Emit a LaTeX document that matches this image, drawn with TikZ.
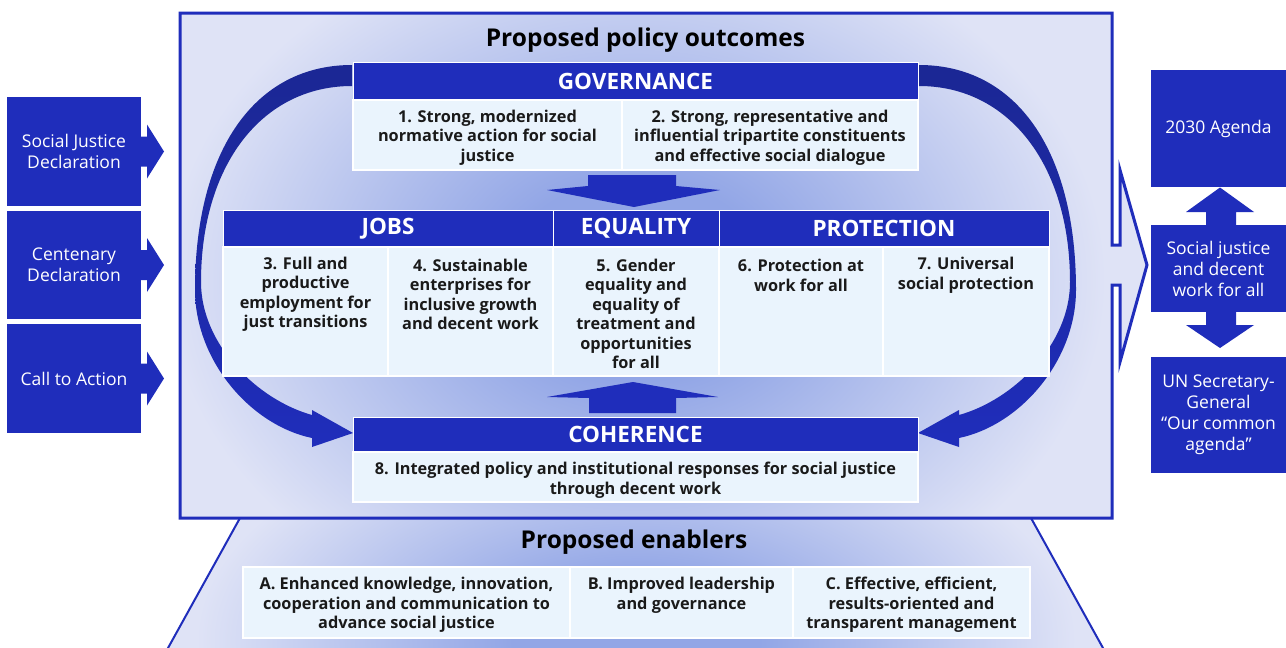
\documentclass[tikz,border=0pt]{standalone}
\usepackage{fontspec}
\setmainfont{Open Sans}
\usetikzlibrary{calc}
\definecolor{hdrblue}{HTML}{1F2DBB}
\definecolor{arctop}{HTML}{1B2794}
\definecolor{cellbg}{HTML}{EAF4FD}
\definecolor{bgl}{HTML}{DFE3F6}
\definecolor{glowc}{HTML}{92A6E6}
\definecolor{txt}{HTML}{1A1A1A}
\pgfdeclareradialshading{glow}{\pgfpoint{0bp}{0bp}}{color(0bp)=(glowc); color(7bp)=(glowc); color(25bp)=(bgl); color(50bp)=(bgl)}
\begin{document}
\begin{tikzpicture}[x=1pt,y=-1pt,
  hdr/.style={fill=hdrblue, draw=white, line width=1pt, text=white, font=\bfseries\fontsize{22.5}{26}\selectfont, inner sep=0pt, outer sep=0pt},
  cellbox/.style={fill=cellbg, draw=white, line width=1.2pt, inner sep=0pt, outer sep=0pt},
  celltext/.style={text=txt, font=\bfseries\fontsize{16.3}{19.5}\selectfont, align=center, inner sep=0pt},
  sidebox/.style={fill=hdrblue, text=white, font=\fontsize{17.5}{21}\selectfont, align=center, inner sep=0pt, outer sep=0pt},
  blockarrow/.style={fill=hdrblue},
  titletext/.style={font=\bfseries\fontsize{24.5}{28}\selectfont, text=black, inner sep=0pt},
  crescent/.pic={
    \shade[top color=arctop, bottom color=hdrblue]
      (352,65) .. controls (255,65) and (195,150) .. (195,290)
      .. controls (195,360) and (250,425) .. (312,438)
      -- (312,447) -- (353,433) -- (312,410) -- (312,415)
      .. controls (258,400) and (201,345) .. (201,282)
      .. controls (201,165) and (262,86) .. (352,86) -- cycle;
  }
]
\useasboundingbox (0,0) rectangle (1286,648);
\fill[white] (0,0) rectangle (1286,648);

% ---- enablers trapezoid
\fill[bgl] (240,518) -- (158.6,665) -- (1112.4,665) -- (1031,518) -- cycle;
\begin{scope}
  \clip (240,518) -- (158.6,665) -- (1112.4,665) -- (1031,518) -- cycle;
  \shade[shading=glow] (636,640) ellipse [x radius=440, y radius=230];
\end{scope}
\draw[hdrblue, line width=2pt] (240,518) -- (158.6,665);
\draw[hdrblue, line width=2pt] (1031,518) -- (1112.4,665);

% ---- main box with outgoing arrow
\fill[bgl] (180,13) -- (1112,13) -- (1112,245) -- (1120,245) -- (1120,170) -- (1147,265)
  -- (1120,362) -- (1120,285) -- (1112,285) -- (1112,518) -- (180,518) -- cycle;
\begin{scope}
  \clip (180,13) rectangle (1112,518);
  \shade[shading=glow] (636,280) ellipse [x radius=470, y radius=360];
\end{scope}
\draw[hdrblue, line width=3pt] (180,13) -- (1112,13) -- (1112,245) -- (1120,245) -- (1120,170) -- (1147,265)
  -- (1120,362) -- (1120,285) -- (1112,285) -- (1112,518) -- (180,518) -- cycle;

% ---- curved arrows
\pic at (0,0) {crescent};
\pic[xscale=-1] at (1271,0) {crescent};

% ---- titles
\node[titletext] (t1) at (645.5,40) {Proposed policy outcomes};
\node[titletext] (t2) at (634,542) {Proposed enablers};

% ---- governance
\node[hdr, minimum width=565pt, minimum height=38pt] (gov) at (635.5,81) {GOVERNANCE};
\node[cellbox, minimum width=269pt, minimum height=70pt] (g1) at (487.5,135) {};
\node[cellbox, minimum width=296pt, minimum height=70pt] (g2) at (770,135) {};
\node[celltext] (g1t) at (487.5,137.5) {1. Strong, modernized\\normative action for social\\justice};
\node[celltext] (g2t) at (770,137.5) {2. Strong, representative and\\influential tripartite constituents\\and effective social dialogue};

% ---- down arrow
\fill[blockarrow] (588,175) -- (676,175) -- (676,186) -- (720,190) -- (634,207) -- (547,190) -- (588,186) -- cycle;

% ---- middle row
\node[hdr, minimum width=330pt, minimum height=37pt] (jobs) at (388,228.5) {JOBS};
\node[hdr, minimum width=166pt, minimum height=37pt] (equ) at (636,228.5) {EQUALITY};
\node[hdr, minimum width=330pt, minimum height=37pt] (prot) at (884,228.5) {PROTECTION};
\node[cellbox, minimum width=165pt, minimum height=129pt] (c3) at (305.5,311.5) {};
\node[cellbox, minimum width=165pt, minimum height=129pt] (c4) at (470.5,311.5) {};
\node[cellbox, minimum width=166pt, minimum height=129pt] (c5) at (636,311.5) {};
\node[cellbox, minimum width=164pt, minimum height=129pt] (c6) at (801,311.5) {};
\node[cellbox, minimum width=166pt, minimum height=129pt] (c7) at (966,311.5) {};
\node[celltext] (c3t) at (305.5,294.5) {3. Full and\\productive\\employment for\\just transitions};
\node[celltext] (c4t) at (470.5,294.5) {4. Sustainable\\enterprises for\\inclusive growth\\and decent work};
\node[celltext] (c5t) at (636,314) {5. Gender\\equality and\\equality of\\treatment and\\opportunities\\for all};
\node[celltext] (c6t) at (801,275.5) {6. Protection at\\work for all};
\node[celltext] (c7t) at (966,275.5) {7. Universal\\social protection};

% ---- up arrow
\fill[blockarrow] (589,413) -- (676,413) -- (676,398) -- (718,397) -- (633,382) -- (547,397) -- (589,398) -- cycle;

% ---- coherence
\node[hdr, minimum width=565pt, minimum height=35pt] (coh) at (635.5,434.5) {COHERENCE};
\node[cellbox, minimum width=565pt, minimum height=50pt] (c8) at (635.5,477) {};
\node[celltext] (c8t) at (635.5,480) {8. Integrated policy and institutional responses for social justice\\through decent work};

% ---- enablers table
\node[cellbox, minimum width=327pt, minimum height=71pt] (ea) at (406.5,602.5) {};
\node[cellbox, minimum width=223pt, minimum height=71pt] (eb) at (681.5,602.5) {};
\node[cellbox, minimum width=237pt, minimum height=71pt] (ec) at (911.5,602.5) {};
\node[celltext] (eat) at (406.5,605) {A. Enhanced knowledge, innovation,\\cooperation and communication to\\advance social justice};
\node[celltext] (ebt) at (681.5,595.5) {B. Improved leadership\\and governance};
\node[celltext] (ect) at (911.5,605) {C. Effective, efficient,\\results-oriented and\\transparent management};

% ---- left inputs
\node[sidebox, minimum width=134pt, minimum height=109pt] (lb1) at (74,151.5) {Social Justice\\Declaration};
\node[sidebox, minimum width=134pt, minimum height=108pt] (lb2) at (74,265) {Centenary\\Declaration};
\node[sidebox, minimum width=134pt, minimum height=109pt] (lb3) at (74,378.5) {Call to Action};
\foreach \b in {lb1,lb2,lb3}{
  \fill[blockarrow] ($(\b.east)+(-0.5,-15)$) -- ($(\b.east)+(6,-15)$) -- ($(\b.east)+(6,-27)$)
    -- ($(\b.east)+(23,0)$) -- ($(\b.east)+(6,27)$) -- ($(\b.east)+(6,15)$) -- ($(\b.east)+(-0.5,15)$) -- cycle;
}

% ---- right context
\node[sidebox, minimum width=135pt, minimum height=117pt] (r1) at (1218.5,128.5) {2030 Agenda};
\node[sidebox, minimum width=135pt, minimum height=87pt] (r2) at (1218.5,268.5) {Social justice\\and decent\\work for all};
\node[sidebox, minimum width=135pt, minimum height=116pt] (r3) at (1218.5,415) {UN Secretary-\\General\\“Our common\\agenda”};
\fill[blockarrow] ($(r2.north)+(-12.5,0.5)$) -- ($(r2.north)+(-12.5,-13)$) -- ($(r2.north)+(-32.5,-13)$)
  -- ($(r1.south)+(1.5,0.5)$) -- ($(r2.north)+(35.5,-13)$) -- ($(r2.north)+(17.5,-13)$) -- ($(r2.north)+(17.5,0.5)$) -- cycle;
\fill[blockarrow] ($(r2.south)+(-12.5,-0.5)$) -- ($(r2.south)+(-12.5,13)$) -- ($(r2.south)+(-32.5,13)$)
  -- ($(r2.south)+(1.5,36)$) -- ($(r2.south)+(35.5,13)$) -- ($(r2.south)+(17.5,13)$) -- ($(r2.south)+(17.5,-0.5)$) -- cycle;
\end{tikzpicture}
\end{document}
